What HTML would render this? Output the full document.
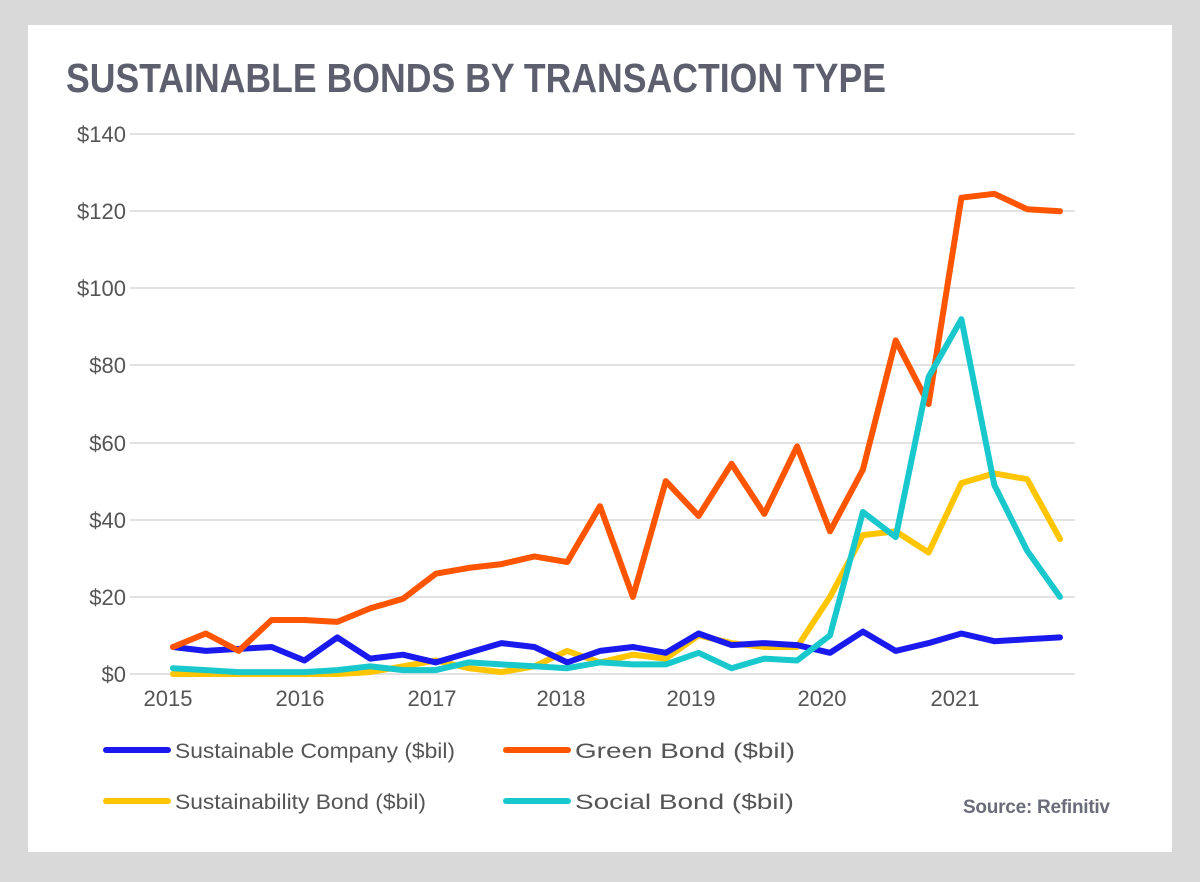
<!DOCTYPE html>
<html><head><meta charset="utf-8"><style>
html,body{margin:0;padding:0;background:#d9d9d9;}
svg{display:block;}
</style></head><body>
<svg width="1200" height="882" xmlns="http://www.w3.org/2000/svg" font-family="Liberation Sans, Arial, sans-serif">
<rect x="0" y="0" width="1200" height="882" fill="#d9d9d9"/>
<rect x="28" y="25" width="1144" height="827" fill="#fff"/>
<text x="66" y="92" font-size="41" font-weight="bold" fill="#5d5e6e" textLength="820" lengthAdjust="spacingAndGlyphs">SUSTAINABLE BONDS BY TRANSACTION TYPE</text>
<g stroke="#d9d9d9" stroke-width="1.5">
<line x1="130" x2="1075" y1="134" y2="134"/><line x1="130" x2="1075" y1="211" y2="211"/>
<line x1="130" x2="1075" y1="288" y2="288"/><line x1="130" x2="1075" y1="365" y2="365"/>
<line x1="130" x2="1075" y1="443" y2="443"/><line x1="130" x2="1075" y1="520" y2="520"/>
<line x1="130" x2="1075" y1="597" y2="597"/><line x1="130" x2="1075" y1="674" y2="674"/>
</g>
<g font-size="22" fill="#555" text-anchor="end">
<text x="126" y="142">$140</text><text x="126" y="219">$120</text><text x="126" y="296">$100</text>
<text x="126" y="373">$80</text><text x="126" y="451">$60</text><text x="126" y="528">$40</text>
<text x="126" y="605">$20</text><text x="126" y="682">$0</text>
</g>
<g font-size="22" fill="#555" text-anchor="middle">
<text x="168" y="706">2015</text><text x="300" y="706">2016</text><text x="432" y="706">2017</text>
<text x="561" y="706">2018</text><text x="691" y="706">2019</text><text x="822" y="706">2020</text><text x="955" y="706">2021</text>
</g>
<g id="lines" fill="none" stroke-width="6" stroke-linejoin="round" stroke-linecap="round"></g>
<g stroke-width="6" stroke-linecap="round">
<line x1="106" x2="168" y1="750" y2="750" stroke="#1a1aee"/>
<line x1="506" x2="568" y1="750" y2="750" stroke="#ff5500"/>
<line x1="106" x2="168" y1="801" y2="801" stroke="#ffc500"/>
<line x1="506" x2="568" y1="801" y2="801" stroke="#18c8cc"/>
</g>
<g font-size="21" fill="#555">
<text x="175" y="758" textLength="280" lengthAdjust="spacingAndGlyphs">Sustainable Company ($bil)</text>
<text x="575" y="758" textLength="220" lengthAdjust="spacingAndGlyphs">Green Bond ($bil)</text>
<text x="175" y="809" textLength="251" lengthAdjust="spacingAndGlyphs">Sustainability Bond ($bil)</text>
<text x="575" y="809" textLength="219" lengthAdjust="spacingAndGlyphs">Social Bond ($bil)</text>
</g>
<text x="963" y="813" font-size="19" font-weight="bold" fill="#6b6c7a" textLength="147">Source: Refinitiv</text>
<script>
var d={
"#ffc500":[0,0,0,0,0,0,0.5,2,3.5,1.5,0.5,2,6,3,5,4,10,8,7,7,20,36,37,31.5,49.5,52,50.5,35],
"#1a1aee":[7,6,6.5,7,3.5,9.5,4,5,3,5.5,8,7,3,6,7,5.5,10.5,7.5,8,7.5,5.5,11,6,8,10.5,8.5,9,9.5],
"#ff5500":[7,10.5,6,14,14,13.5,17,19.5,26,27.5,28.5,30.5,29,43.5,20,50,41,54.5,41.5,59,37,53,86.5,70,123.5,124.5,120.5,120],
"#18c8cc":[1.5,1,0.5,0.5,0.5,1,2,1,1,3,2.5,2,1.5,3,2.5,2.5,5.5,1.5,4,3.5,10,42,35.5,77,92,49,32,20]};
var g=document.getElementById('lines');
["#ffc500","#1a1aee","#ff5500","#18c8cc"].forEach(function(c){
var p=d[c].map(function(v,i){return (173+i*32.85).toFixed(1)+','+(674-v*3.857).toFixed(1)}).join(' ');
var e=document.createElementNS('http://www.w3.org/2000/svg','polyline');
e.setAttribute('points',p);e.setAttribute('stroke',c);g.appendChild(e);});
</script>
</svg>
</body></html>
